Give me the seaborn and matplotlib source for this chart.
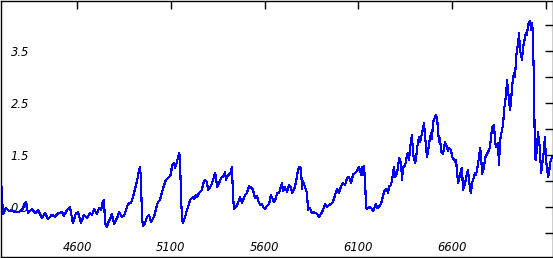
import numpy as np
import pandas as pd
import matplotlib
matplotlib.use("Agg")
import matplotlib.pyplot as plt
import seaborn as sns

wavelength = [
    4189, 4194, 4205, 4221, 4237, 4253, 4269, 4285, 4306, 4328, 4338, 4360, 4376, 4392,
    4413, 4429, 4445, 4466, 4482, 4498, 4520, 4530, 4546, 4562, 4578, 4594, 4605, 4621,
    4637, 4653, 4669,
    4680, 4690, 4701, 4706, 4717, 4728, 4738, 4744, 4749, 4760, 4765, 4781, 4786, 4797,
    4808, 4818, 4824, 4840, 4850, 4861, 4872, 4888, 4898, 4909, 4920, 4930, 4936, 4941,
    4946, 4952, 4962, 4973, 4984, 4994, 5005, 5016, 5026, 5032, 5042, 5053, 5064, 5074,
    5085, 5101, 5106, 5117, 5122, 5133, 5144, 5149, 5154, 5160, 5165,
    5176, 5186, 5192, 5202, 5218, 5224, 5234, 5240, 5250, 5266, 5272, 5282, 5293, 5298,
    5309, 5320, 5325, 5336, 5341, 5346, 5357, 5368, 5378, 5389, 5394, 5405, 5416, 5426,
    5432, 5437, 5448, 5458, 5469, 5480, 5485, 5496, 5506, 5517, 5528, 5538, 5549, 5560,
    5565, 5576, 5586, 5592, 5602, 5613, 5624, 5634,
    5650, 5661, 5666, 5677, 5688, 5693, 5698, 5709, 5720, 5730, 5741, 5746, 5757, 5768,
    5773, 5784, 5794, 5800, 5805, 5816, 5826, 5832, 5842, 5853, 5864, 5880, 5890, 5901,
    5912, 5922, 5933, 5938, 5954, 5965, 5976, 5986, 5997, 6008, 6018, 6029, 6040, 6050,
    6061, 6072, 6082, 6093, 6104, 6109, 6114,
    6120, 6125, 6130, 6136, 6141, 6146, 6157, 6168, 6178, 6189, 6194, 6200, 6210, 6221,
    6226, 6232, 6242, 6253, 6258, 6264, 6274, 6280, 6290, 6296, 6306, 6312, 6317, 6328,
    6333, 6338, 6349, 6360, 6365, 6370, 6381, 6386, 6392, 6402, 6408, 6413, 6424, 6429,
    6434, 6445, 6450, 6456, 6466, 6472, 6477, 6488, 6493, 6498, 6509, 6514, 6520, 6530,
    6536, 6541, 6552, 6557, 6562, 6573, 6578, 6584, 6594, 6600, 6605, 6616, 6621,
    6632, 6637, 6648, 6653, 6658, 6669, 6680, 6685, 6696, 6701, 6706, 6717, 6722, 6728,
    6738, 6749, 6754, 6760, 6770, 6776, 6786, 6792, 6802, 6808, 6813, 6824, 6829, 6834,
    6845, 6850, 6856, 6866, 6872, 6877, 6888, 6893, 6898, 6909, 6914, 6920, 6930, 6936,
    6941, 6952, 6957, 6962, 6973, 6978, 6984, 6994, 6999, 7005, 7016, 7021, 7026, 7031,
    7037, 7042, 7047, 7053, 7058, 7069, 7074, 7079, 7090, 7095, 7101, 7112, 7117, 7122,
    7133,
]

flux = [
    0.63, 1.06, 0.37, 0.48, 0.42, 0.44, 0.40, 0.40, 0.44, 0.60, 0.38, 0.46, 0.38, 0.44,
    0.29, 0.38, 0.27, 0.35, 0.31, 0.38, 0.40, 0.33, 0.44, 0.50, 0.19, 0.38, 0.40, 0.19,
    0.35, 0.29, 0.38,
    0.35, 0.46, 0.40, 0.37, 0.48, 0.44, 0.62, 0.63, 0.19, 0.12, 0.19, 0.31, 0.37, 0.17,
    0.25, 0.33, 0.40, 0.31, 0.33, 0.44, 0.56, 0.58, 0.69, 0.85, 1.00, 1.21, 1.27, 1.02,
    0.31, 0.13, 0.19, 0.31, 0.35, 0.21, 0.27, 0.38, 0.54, 0.60, 0.63, 0.79, 0.92, 1.02,
    1.06, 1.12, 1.31, 1.35, 1.25, 1.37, 1.54, 1.44, 0.73, 0.25, 0.19,
    0.31, 0.44, 0.50, 0.63, 0.69, 0.65, 0.73, 0.69, 0.77, 0.83, 0.94, 1.02, 0.98, 0.83,
    0.87, 0.96, 1.02, 1.15, 1.08, 0.88, 0.96, 1.06, 1.08, 1.17, 1.02, 1.12, 1.13, 1.27,
    0.69, 0.46, 0.50, 0.58, 0.69, 0.58, 0.63, 0.73, 0.77, 0.90, 0.88, 0.83, 0.67, 0.71,
    0.63, 0.54, 0.56, 0.50, 0.46, 0.52, 0.56, 0.73,
    0.60, 0.67, 0.77, 0.77, 0.90, 0.96, 0.81, 0.88, 0.79, 0.92, 0.88, 0.77, 0.83, 0.98,
    1.12, 1.27, 1.25, 0.85, 1.00, 0.88, 0.77, 0.44, 0.48, 0.38, 0.40, 0.37, 0.31, 0.37,
    0.44, 0.56, 0.50, 0.52, 0.56, 0.60, 0.73, 0.85, 0.77, 0.90, 0.96, 0.92, 1.06, 1.08,
    0.96, 1.13, 1.15, 1.19, 1.27, 1.21, 1.12,
    1.27, 1.12, 1.29, 1.02, 0.48, 0.46, 0.50, 0.48, 0.42, 0.52, 0.56, 0.48, 0.50, 0.56,
    0.63, 0.73, 0.83, 0.85, 0.77, 0.90, 0.92, 1.02, 1.27, 1.08, 1.15, 1.27, 1.44, 1.35,
    1.02, 1.27, 1.29, 1.50, 1.54, 1.40, 1.79, 1.88, 1.52, 1.35, 1.42, 1.63, 1.85, 1.75,
    1.83, 2.00, 2.12, 1.85, 1.46, 1.56, 1.73, 1.92, 1.81, 2.13, 2.23, 2.27, 2.21, 1.75,
    1.83, 1.56, 1.52, 1.65, 1.75, 1.65, 1.58, 1.63, 1.60, 1.46, 1.44, 1.37, 1.40,
    0.96, 1.02, 1.21, 1.25, 0.83, 0.96, 1.15, 1.21, 0.83, 0.77, 0.96, 1.08, 1.15, 1.12,
    1.31, 1.63, 1.54, 1.13, 1.27, 1.44, 1.52, 1.56, 1.65, 1.85, 2.02, 2.08, 1.75, 1.65,
    1.73, 1.31, 1.79, 1.98, 2.08, 2.37, 2.65, 2.94, 2.75, 2.37, 2.52, 2.83, 3.08, 3.00,
    3.38, 3.65, 3.85, 3.52, 3.33, 3.56, 3.67, 3.85, 3.81, 4.00, 4.08, 3.90, 4.04, 3.85,
    2.75, 1.46, 1.40, 1.65, 1.94, 1.60, 1.15, 1.27, 1.60, 1.85, 1.40, 1.08, 1.13, 1.35,
    1.46,
]

x_ticks = [4600, 5100, 5600, 6100, 6600, 7100]
x_tick_labels = ["4600", "5100", "5600", "6100", "6600", ""]
y_ticks = [0.0, 0.5, 1.0, 1.5, 2.0, 2.5, 3.0, 3.5, 4.0]
y_tick_labels = ["", "0.5", "", "1.5", "", "2.5", "", "3.5", ""]

df = pd.DataFrame({"wavelength": wavelength, "flux": flux})

sns.set_style("white")
plt.rcParams["font.family"] = ["DejaVu Sans"]

W, H = 553, 258
fig = plt.figure(figsize=(W / 100, H / 100), dpi=100)
fig.patch.set_facecolor("white")
# axes frame in pixel coordinates: left 0.5, right 552.5, top 0.5, bottom 256.5
ax = fig.add_axes([0.5 / W, (H - 256.5) / H, 552.0 / W, 256.0 / H])
ax.set_facecolor("white")

sns.lineplot(data=df, x="wavelength", y="flux", ax=ax, color="#0000ff",
             linewidth=0.8, estimator=None, sort=False, legend=False,
             antialiased=False)

ax.set_xlim(4191.7, 7135.5)
ax.set_ylim(-0.452, 4.471)
ax.set_xlabel("")
ax.set_ylabel("")

ax.set_xticks(x_ticks)
ax.set_xticklabels(x_tick_labels)
ax.set_yticks(y_ticks)
ax.set_yticklabels(y_tick_labels)

ax.tick_params(axis="both", which="major", direction="in", length=6, width=1,
               color="black", top=True, right=True, labelsize=8.3, labelcolor="black")
ax.tick_params(axis="y", pad=-7.2)
ax.tick_params(axis="x", pad=-4.0)
for lab in ax.get_yticklabels():
    lab.set_ha("left")
    lab.set_style("italic")
for lab in ax.get_xticklabels():
    lab.set_va("baseline")
    lab.set_style("italic")

for s in ax.spines.values():
    s.set_visible(True)
    s.set_color("black")
    s.set_linewidth(1.0)

fig.savefig("out.png", dpi=100, facecolor="white")
